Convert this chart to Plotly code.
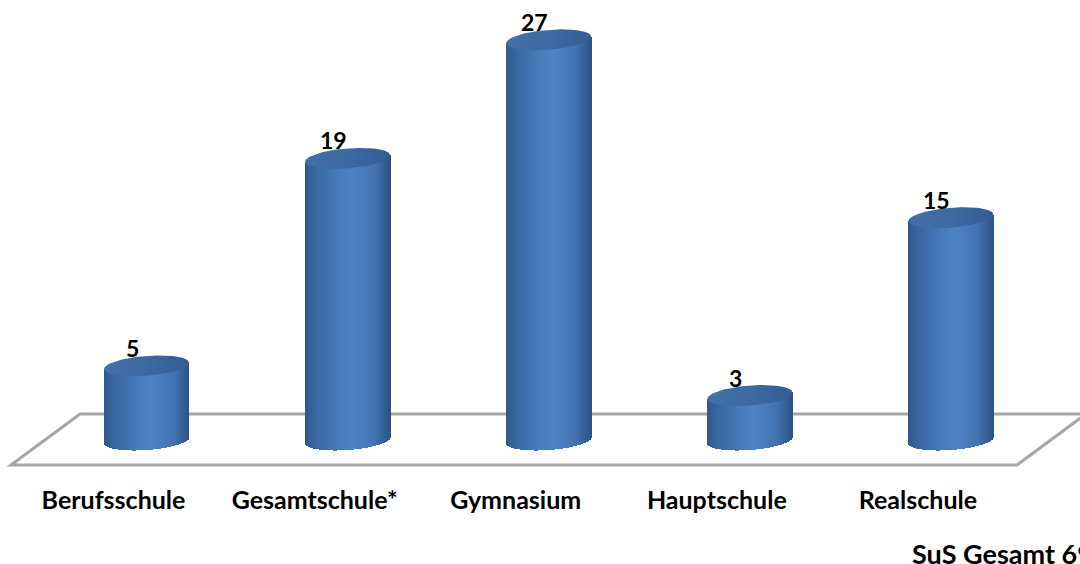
import numpy as np
import plotly.graph_objects as go

categories = ["Berufsschule", "Gesamtschule*", "Gymnasium", "Hauptschule", "Realschule"]
values = [5, 19, 27, 3, 15]
total_label = "SuS Gesamt 69"

W, H = 1080, 564
PLOT_BOTTOM = 483
SPACING = 201.1      # px between categories
FIRST_X = 146.5      # px of first cylinder centre
PPU = 14.82          # px per value unit
ZERO_Y = 440         # px of value 0
A, B, SHEAR = 42.5, 10.0, 3.2   # cylinder half width, ellipse half height, ellipse tilt
FONT = "Lato"
INK = "#000000"

xr = [-FIRST_X / SPACING, (W - FIRST_X) / SPACING]
yr = [-(PLOT_BOTTOM - ZERO_Y) / PPU, ZERO_Y / PPU]
idx = np.arange(len(categories))
vals = np.array(values, dtype=float)

stops = [(0.0, (46, 88, 138)), (0.1, (55, 102, 158)), (0.35, (68, 120, 182)),
         (0.55, (78, 132, 198)), (0.82, (66, 116, 176)), (0.95, (50, 92, 146)), (1.0, (46, 84, 130))]
def shade(t):
    xs = [s[0] for s in stops]
    return "rgb(%d,%d,%d)" % tuple(int(np.interp(t, xs, [s[1][c] for s in stops])) for c in range(3))

fig = go.Figure()

# cylinder bodies: vertical one-pixel strips of ordinary bars
n = int(2 * A)
for k in range(n):
    u = (k + 0.5) / n * 2 - 1
    droop = B * np.sqrt(max(0, 1 - u * u))
    tilt = SHEAR * u
    fig.add_trace(go.Bar(
        x=idx, y=vals + droop / PPU, base=np.full(len(vals), (tilt - droop) / PPU),
        offset=(-A + k) / SPACING, width=(2 if k < n - 1 else 1) / SPACING,
        marker=dict(color=shade((k + 0.5) / n), line=dict(width=0)),
        showlegend=False, hoverinfo="skip",
    ))

# cylinder tops
t = np.linspace(0, 2 * np.pi, 90)
for i, v in zip(idx, vals):
    ex = i + A * np.cos(t) / SPACING
    ey = v + (SHEAR * np.cos(t) + B * np.sin(t)) / PPU
    fig.add_trace(go.Scatter(
        x=ex, y=ey, mode="lines", line=dict(width=0), fill="toself",
        fillgradient=dict(type="horizontal", colorscale=[[0, "#4270a9"], [0.5, "#3d6aa3"], [1, "#335d92"]]),
        showlegend=False, hoverinfo="skip",
    ))

# value labels
annotations = [dict(x=i, y=v, xref="x", yref="y", text=f"<b>{int(v)}</b>", showarrow=False,
                    xshift=-14, yshift=18, yanchor="middle",
                    font=dict(family=FONT, size=23, color=INK)) for i, v in zip(idx, vals)]

# floor of the 3D chart, placed in page pixels
def px(x): return x / W
def py(y): return 1 - y / PLOT_BOTTOM

annotations.append(dict(x=px(910), y=py(553), xref="paper", yref="paper", text=f"<b>{total_label}</b>",
                        showarrow=False, xanchor="left", yanchor="middle",
                        font=dict(family=FONT, size=27, color=INK)))

floor = [dict(type="path", xref="paper", yref="paper", layer="below",
              path=f"M {px(1090)},{py(414)} L {px(80)},{py(414)} L {px(11)},{py(465)} L {px(1017)},{py(465)} L {px(1090)},{py(411)}",
              line=dict(color="#a6a6a6", width=3))]

fig.update_layout(
    width=W, height=H, margin=dict(l=0, r=0, t=0, b=H - PLOT_BOTTOM, autoexpand=False),
    paper_bgcolor="white", plot_bgcolor="rgba(0,0,0,0)", barmode="overlay", bargap=0,
    xaxis=dict(range=xr, showgrid=False, zeroline=False, showline=False, ticks="",
               tickmode="array", tickvals=list(idx - 33 / SPACING), ticktext=[f"<b>{c}</b>" for c in categories],
               tickfont=dict(family=FONT, size=25, color=INK), automargin=False),
    yaxis=dict(range=yr, visible=False, automargin=False),
    annotations=annotations, shapes=floor,
)
fig.write_html("out.html", config=dict(displayModeBar=False),
               post_script="document.body.style.margin='0';document.body.style.overflow='hidden';")
